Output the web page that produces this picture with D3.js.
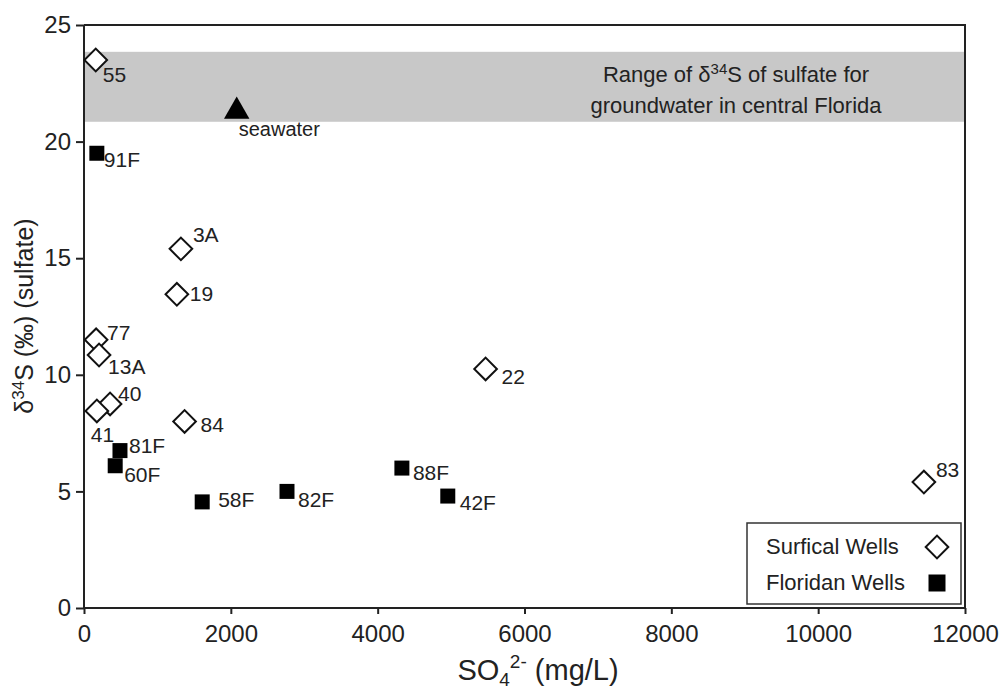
<!DOCTYPE html>
<html lang="en">
<head>
<meta charset="UTF-8">
<title>d34S vs sulfate</title>
<script src="https://cdn.jsdelivr.net/npm/d3@7"></script>
<style>
  body { margin: 0; background: #fff; }
  svg { font-family: "Liberation Sans", Arial, Helvetica, sans-serif; }
  .axis path, .axis line { stroke: #222; stroke-width: 2px; }
  .axis text { font-size: 24px; fill: #222; }
  .frame { stroke: #222; stroke-width: 2px; fill: none; }
  .lbl { font-size: 21px; fill: #222; }
</style>
</head>
<body>
<svg width="1005" height="691"></svg>
<script>
// data
const surficialIds = ['55', '3A', '19', '77', '13A', '40', '41', '84', '22', '83'];
const surficialSO4 = [160, 1320, 1265, 165, 205, 355, 175, 1370, 5470, 11440];
const surficialD34S = [23.5, 15.4, 13.45, 11.5, 10.85, 8.75, 8.45, 8.0, 10.25, 5.4];

const floridanIds = ['91F', '81F', '60F', '58F', '82F', '88F', '42F'];
const floridanSO4 = [175, 490, 425, 1610, 2765, 4330, 4955];
const floridanD34S = [19.5, 6.75, 6.1, 4.55, 5.0, 6.0, 4.8];

const seawaterSO4 = [2080];
const seawaterD34S = [21.3];

const bandRange = [20.85, 23.85];
const xTicks = [0, 2000, 4000, 6000, 8000, 10000, 12000];
const yTicks = [0, 5, 10, 15, 20, 25];

// label offsets from the marker (px), layout only
const labelOffset = {
  '55': [7, 22], '3A': [12, -7], '19': [13, 7], '77': [11, 0], '13A': [9, 19],
  '40': [8, -3], '41': [-6, 31], '84': [16, 11], '22': [16, 15], '83': [12, -5],
  '91F': [7, 14], '81F': [9, 2], '60F': [9, 16], '58F': [16, 5], '82F': [11, 16],
  '88F': [11, 12], '42F': [12, 14], 'seawater': [2, 25]
};

let svg = d3.select('svg');
let m = {left: 84, right: 965, top: 25, bottom: 608};

let x = d3.scaleLinear().domain([0, 12000]).range([m.left, m.right]);
let y = d3.scaleLinear().domain([0, 25]).range([m.bottom, m.top]);

// gray band
svg.append('rect')
  .attr('x', x(0)).attr('width', x(12000) - x(0))
  .attr('y', y(bandRange[1])).attr('height', y(bandRange[0]) - y(bandRange[1]))
  .attr('fill', '#c8c8c8');

let note = svg.append('text').attr('class', 'lbl')
  .attr('text-anchor', 'middle').style('font-size', '22px');
let l1 = note.append('tspan').attr('x', 736).attr('y', 82);
l1.append('tspan').text('Range of  δ');
l1.append('tspan').attr('dy', -8).style('font-size', '15px').text('34');
l1.append('tspan').attr('dy', 8).text('S of sulfate for');
note.append('tspan').attr('x', 736).attr('y', 113).text('groundwater in central Florida');

// frame top / right
svg.append('path').attr('class', 'frame')
  .attr('d', `M${x(0)},${y(25)}H${x(12000)}V${y(0)}`);

// axes
svg.append('g').attr('class', 'axis')
  .attr('transform', `translate(0,${y(0)})`)
  .call(d3.axisBottom(x).tickValues(xTicks).tickSize(6).tickPadding(11).tickFormat(d3.format('d')))
  .call(g => g.select('.domain').attr('d', `M${x(0)},0H${x(12000)}`));
svg.append('g').attr('class', 'axis')
  .attr('transform', `translate(${x(0)},0)`)
  .call(d3.axisLeft(y).tickValues(yTicks).tickSize(8).tickPadding(5))
  .call(g => g.select('.domain').attr('d', `M0,${y(0)}V${y(25)}`));

// axis titles
let xt = svg.append('text').attr('x', 538).attr('y', 680)
  .attr('text-anchor', 'middle').style('font-size', '29px').attr('fill', '#222');
xt.append('tspan').text('SO');
xt.append('tspan').attr('dy', 6).style('font-size', '19px').text('4');
xt.append('tspan').attr('dy', -18).style('font-size', '19px').text('2-');
xt.append('tspan').attr('dy', 12).text(' (mg/L)');

let yt = svg.append('text').attr('transform', 'translate(33,316) rotate(-90)')
  .attr('text-anchor', 'middle').style('font-size', '25px').attr('fill', '#222');
yt.append('tspan').text('δ');
yt.append('tspan').attr('dy', -9).style('font-size', '17px').text('34');
yt.append('tspan').attr('dy', 9).text('S (‰) (sulfate)');

// markers
let diamond = d3.symbol(d3.symbolSquare, 16 * 16);
let square = d3.symbol(d3.symbolSquare, 15 * 15);
let bigSquare = d3.symbol(d3.symbolSquare, 17 * 17);
let tri = d3.symbol(d3.symbolTriangle, 280);

let surf = surficialIds.map((id, i) => ({id, so4: surficialSO4[i], d: surficialD34S[i]}));
let flor = floridanIds.map((id, i) => ({id, so4: floridanSO4[i], d: floridanD34S[i]}));
let sea = seawaterSO4.map((v, i) => ({id: 'seawater', so4: v, d: seawaterD34S[i]}));

svg.append('g').selectAll('path').data(surf).join('path')
  .attr('d', diamond)
  .attr('transform', d => `translate(${x(d.so4)},${y(d.d)}) rotate(45)`)
  .attr('fill', '#fff').attr('stroke', '#111').attr('stroke-width', 2);

svg.append('g').selectAll('path').data(flor).join('path')
  .attr('d', square)
  .attr('transform', d => `translate(${x(d.so4)},${y(d.d)})`)
  .attr('fill', '#000');

svg.append('g').selectAll('path').data(sea).join('path')
  .attr('d', tri)
  .attr('transform', d => `translate(${x(d.so4)},${y(d.d)})`)
  .attr('fill', '#000');

// point labels
svg.append('g').selectAll('text').data(surf.concat(flor, sea)).join('text')
  .attr('class', 'lbl')
  .attr('x', d => x(d.so4) + labelOffset[d.id][0])
  .attr('y', d => y(d.d) + labelOffset[d.id][1])
  .style('font-size', d => d.id == 'seawater' ? '20px' : null)
  .text(d => d.id);

// legend
let lg = svg.append('g');
lg.append('rect').attr('x', 747).attr('y', 523).attr('width', 214).attr('height', 81)
  .attr('fill', '#fff').attr('stroke', '#333').attr('stroke-width', 1.5);
lg.append('text').attr('class', 'lbl').attr('x', 766).attr('y', 554)
  .style('font-size', '22px').text('Surfical Wells');
lg.append('text').attr('class', 'lbl').attr('x', 766).attr('y', 590)
  .style('font-size', '22px').text('Floridan Wells');
lg.append('path').attr('d', diamond)
  .attr('transform', 'translate(937,547) rotate(45)')
  .attr('fill', '#fff').attr('stroke', '#111').attr('stroke-width', 2);
lg.append('path').attr('d', bigSquare)
  .attr('transform', 'translate(937,583)').attr('fill', '#000');
</script>
</body>
</html>
